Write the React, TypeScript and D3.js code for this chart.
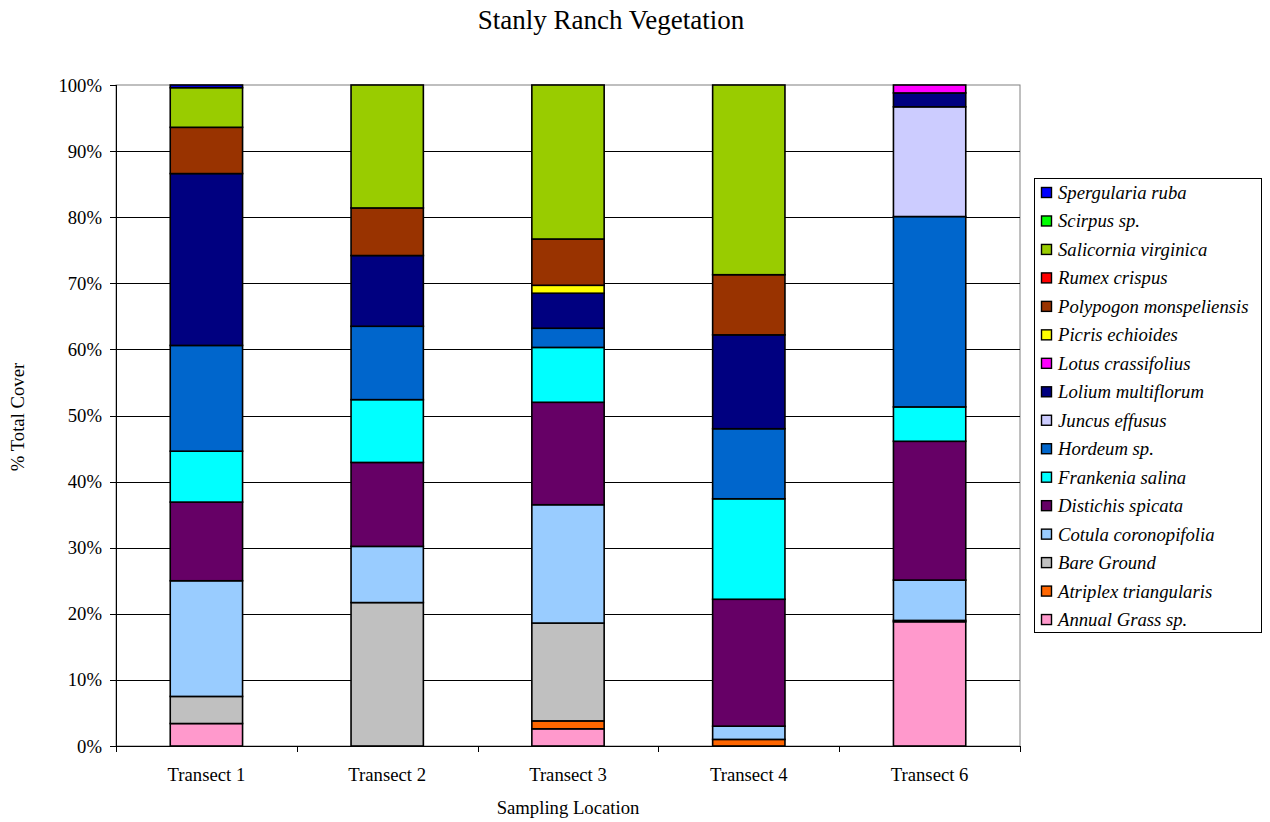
import React from "react";
import * as d3 from "d3";

// Sampling locations along the x axis
const transects = ["Transect 1", "Transect 2", "Transect 3", "Transect 4", "Transect 6"];

// Cover values (%) per species, one value per transect, stacked bottom to top
const annualGrass = [3.4, 0, 2.6, 0, 18.8];
const atriplex = [0, 0, 1.2, 1.0, 0];
const bareGround = [4.1, 21.7, 14.8, 0, 0.2];
const cotula = [17.5, 8.5, 17.9, 2.0, 6.1];
const distichis = [11.9, 12.7, 15.5, 19.2, 21.0];
const frankenia = [7.7, 9.5, 8.3, 15.2, 5.2];
const hordeum = [16.0, 11.1, 2.9, 10.6, 28.8];
const juncus = [0, 0, 0, 0, 16.6];
const lolium = [26.0, 10.7, 5.3, 14.2, 2.1];
const lotus = [0, 0, 0, 0, 1.2];
const picris = [0, 0, 1.2, 0, 0];
const polypogon = [7.0, 7.2, 7.0, 9.1, 0];
const rumex = [0, 0, 0, 0, 0];
const salicornia = [6.0, 18.6, 23.3, 28.7, 0];
const scirpus = [0, 0, 0, 0, 0];
const spergularia = [0.4, 0, 0, 0, 0];

const seriesNames = [
  "Annual Grass sp.",
  "Atriplex triangularis",
  "Bare Ground",
  "Cotula coronopifolia",
  "Distichis spicata",
  "Frankenia salina",
  "Hordeum sp.",
  "Juncus effusus",
  "Lolium multiflorum",
  "Lotus crassifolius",
  "Picris echioides",
  "Polypogon monspeliensis",
  "Rumex crispus",
  "Salicornia virginica",
  "Scirpus sp.",
  "Spergularia ruba",
];
const seriesValues = [
  annualGrass, atriplex, bareGround, cotula, distichis, frankenia, hordeum, juncus,
  lolium, lotus, picris, polypogon, rumex, salicornia, scirpus, spergularia,
];
const seriesColors = [
  "#FF99CC", "#FF6600", "#C0C0C0", "#99CCFF", "#660066", "#00FFFF", "#0066CC", "#CCCCFF",
  "#000080", "#FF00FF", "#FFFF00", "#993300", "#FF0000", "#99CC00", "#00FF00", "#0000FF",
];

const yTicks = [0, 0.1, 0.2, 0.3, 0.4, 0.5, 0.6, 0.7, 0.8, 0.9, 1.0];

const W = 1270;
const H = 822;
const plot = { left: 116, right: 1020, top: 85, bottom: 746 };
const FONT = "'Liberation Serif', 'Times New Roman', serif";
const FS = 18.7;

export default function App() {
  const rows = transects.map((t, i) => {
    const r: Record<string, any> = { transect: t };
    seriesNames.forEach((s, j) => (r[s] = seriesValues[j][i]));
    return r;
  });
  const stacked = d3
    .stack<Record<string, any>>()
    .keys(seriesNames)
    .offset(d3.stackOffsetExpand)(rows);

  const x = d3
    .scaleBand<string>()
    .domain(transects)
    .range([plot.left, plot.right])
    .paddingInner(0.6)
    .paddingOuter(0.3);
  const y = d3.scaleLinear().domain([0, 1]).range([plot.bottom, plot.top]);
  const fmt = d3.format(".0%");
  const step = x.step();

  const legend = { x: 1034, y: 178, w: 227, h: 454 };
  const legendItems = seriesNames.map((n, i) => ({ name: n, color: seriesColors[i] })).reverse();
  const legendStep = 28.47;

  return (
    <svg
      width={W}
      height={H}
      style={{ position: "absolute", left: 0, top: 0, background: "#fff" }}
      fontFamily={FONT}
    >
      <rect x={0} y={0} width={W} height={H} fill="#fff" />
      <text x={611} y={29} textAnchor="middle" fontSize={27} fill="#000">
        Stanly Ranch Vegetation
      </text>

      {/* plot area frame and gridlines */}
      <rect
        x={plot.left}
        y={plot.top}
        width={plot.right - plot.left}
        height={plot.bottom - plot.top}
        fill="#fff"
        stroke="#808080"
        strokeWidth={1}
      />
      {yTicks.slice(1, -1).map((t) => (
        <line
          key={"g" + t}
          x1={plot.left}
          x2={plot.right}
          y1={Math.round(y(t)) + 0.5}
          y2={Math.round(y(t)) + 0.5}
          stroke="#000"
          strokeWidth={1}
        />
      ))}

      {/* stacked bars */}
      {stacked.map((layer, si) =>
        layer.map((d, ci) => {
          if (d[1] - d[0] <= 0) return null;
          const x0 = x(transects[ci])!;
          return (
            <rect
              key={`${si}-${ci}`}
              x={x0}
              y={y(d[1])}
              width={x.bandwidth()}
              height={y(d[0]) - y(d[1])}
              fill={seriesColors[si]}
              stroke="#000"
              strokeWidth={1.6}
            />
          );
        })
      )}

      {/* y axis */}
      <line x1={plot.left + 0.5} x2={plot.left + 0.5} y1={plot.top} y2={plot.bottom} stroke="#000" />
      {yTicks.map((t) => (
        <g key={"y" + t}>
          <line
            x1={plot.left - 6}
            x2={plot.left}
            y1={Math.round(y(t)) + 0.5}
            y2={Math.round(y(t)) + 0.5}
            stroke="#000"
          />
          <text x={plot.left - 14} y={y(t) + 6.5} textAnchor="end" fontSize={FS} fill="#000">
            {fmt(t)}
          </text>
        </g>
      ))}

      {/* x axis */}
      <line x1={plot.left} x2={plot.right} y1={plot.bottom + 0.5} y2={plot.bottom + 0.5} stroke="#000" />
      {d3.range(transects.length + 1).map((i) => {
        const xx = Math.round(plot.left + i * step) + 0.5;
        return <line key={"xt" + i} x1={xx} x2={xx} y1={plot.bottom} y2={plot.bottom + 6} stroke="#000" />;
      })}
      {transects.map((t) => (
        <text
          key={t}
          x={x(t)! + x.bandwidth() / 2}
          y={781}
          textAnchor="middle"
          fontSize={FS}
          fill="#000"
        >
          {t}
        </text>
      ))}

      <text x={568} y={814} textAnchor="middle" fontSize={FS} fill="#000">
        Sampling Location
      </text>
      <text
        transform={`translate(24, 417) rotate(-90)`}
        textAnchor="middle"
        fontSize={FS}
        fill="#000"
      >
        % Total Cover
      </text>

      {/* legend */}
      <rect x={legend.x + 0.5} y={legend.y + 0.5} width={legend.w} height={legend.h} fill="#fff" stroke="#000" />
      {legendItems.map((it, i) => {
        const cy = 193 + i * legendStep;
        return (
          <g key={it.name}>
            <rect x={1041.5} y={cy - 5.5} width={10} height={10} fill={it.color} stroke="#000" strokeWidth={1.4} />
            <text x={1058} y={cy + 6} fontSize={FS} fontStyle="italic" fill="#000">
              {it.name}
            </text>
          </g>
        );
      })}
    </svg>
  );
}
